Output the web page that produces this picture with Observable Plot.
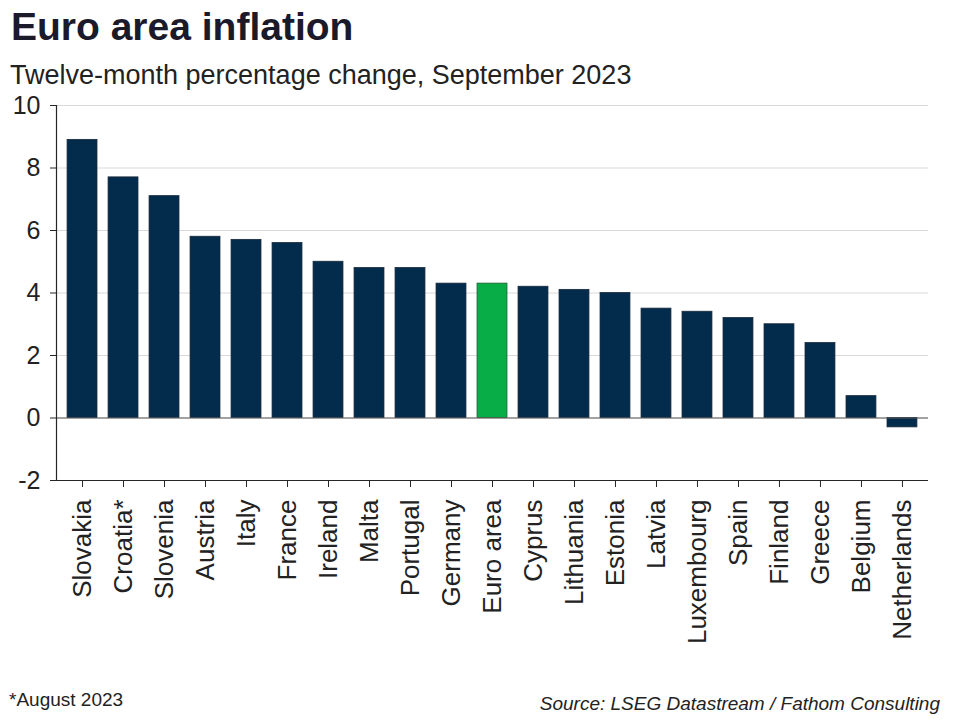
<!DOCTYPE html>
<html>
<head>
<meta charset="utf-8">
<script src="https://cdn.jsdelivr.net/npm/d3@7"></script>
<script src="https://cdn.jsdelivr.net/npm/@observablehq/plot@0.6"></script>
<style>
  html, body { margin: 0; padding: 0; background: #fff; }
  #wrap { position: relative; width: 960px; height: 720px; overflow: hidden; font-family: "Liberation Sans", Arial, sans-serif; }
  #chart { position: absolute; left: 0; top: 0; }
  .t { position: absolute; white-space: nowrap; color: #1a1a2a; }
  #title { left: 11px; top: 5px; font-size: 39px; font-weight: bold; }
  #subtitle { left: 10px; top: 60px; font-size: 27px; color: #222; }
  #note { left: 9px; top: 689px; font-size: 19px; color: #222; }
  #source { right: 20px; top: 693px; font-size: 19px; font-style: italic; color: #222; }
</style>
</head>
<body>
<div id="wrap">
  <div id="chart"></div>
  <div class="t" id="title">Euro area inflation</div>
  <div class="t" id="subtitle">Twelve-month percentage change, September 2023</div>
  <div class="t" id="note">*August 2023</div>
  <div class="t" id="source">Source: LSEG Datastream / Fathom Consulting</div>
</div>
<script>
const countries = ["Slovakia","Croatia*","Slovenia","Austria","Italy","France","Ireland","Malta","Portugal","Germany","Euro area","Cyprus","Lithuania","Estonia","Latvia","Luxembourg","Spain","Finland","Greece","Belgium","Netherlands"];
const inflation = [8.9, 7.7, 7.1, 5.8, 5.7, 5.6, 5.0, 4.8, 4.8, 4.3, 4.3, 4.2, 4.1, 4.0, 3.5, 3.4, 3.2, 3.0, 2.4, 0.7, -0.3];
const yTicks = [-2, 0, 2, 4, 6, 8, 10];
const highlight = "Euro area";

const data = countries.map((c, i) => ({country: c, value: inflation[i], group: c === highlight ? "euro" : "country"}));

const chart = Plot.plot({
  width: 960,
  height: 720,
  marginLeft: 56,
  marginRight: 32,
  marginTop: 105,
  marginBottom: 240,
  style: {fontFamily: "'Liberation Sans', Arial, sans-serif", color: "#222", background: "transparent", overflow: "visible"},
  x: {domain: countries, padding: 0.27, round: false, label: null},
  y: {domain: [-2, 10], ticks: yTicks, label: null},
  color: {domain: ["country", "euro"], range: ["#022b4c", "#09ad48"]},
  marks: [
    Plot.gridY(yTicks, {stroke: "#d9d9d9", strokeOpacity: 1}),
    Plot.barY(data, {x: "country", y: "value", fill: "group", stroke: d => d.group === "euro" ? "#1f5a30" : "#1a2b3b", strokeWidth: 0.8}),
    Plot.ruleY([0], {stroke: "#595959", strokeWidth: 1.2}),
    Plot.ruleY([-2], {stroke: "#262626", strokeWidth: 1.2}),
    Plot.frame({anchor: "left", stroke: "#262626", strokeWidth: 1.2}),
    Plot.axisY(yTicks, {tickSize: 6, tickPadding: 10, fontSize: 25, stroke: "#262626", fill: "#222", tickFormat: d => String(d)}),
    Plot.axisX({tickSize: 7, tickPadding: 12, tickRotate: -90, fontSize: 26, stroke: "#262626", fill: "#222", label: null})
  ]
});
document.getElementById("chart").appendChild(chart);
</script>
</body>
</html>
